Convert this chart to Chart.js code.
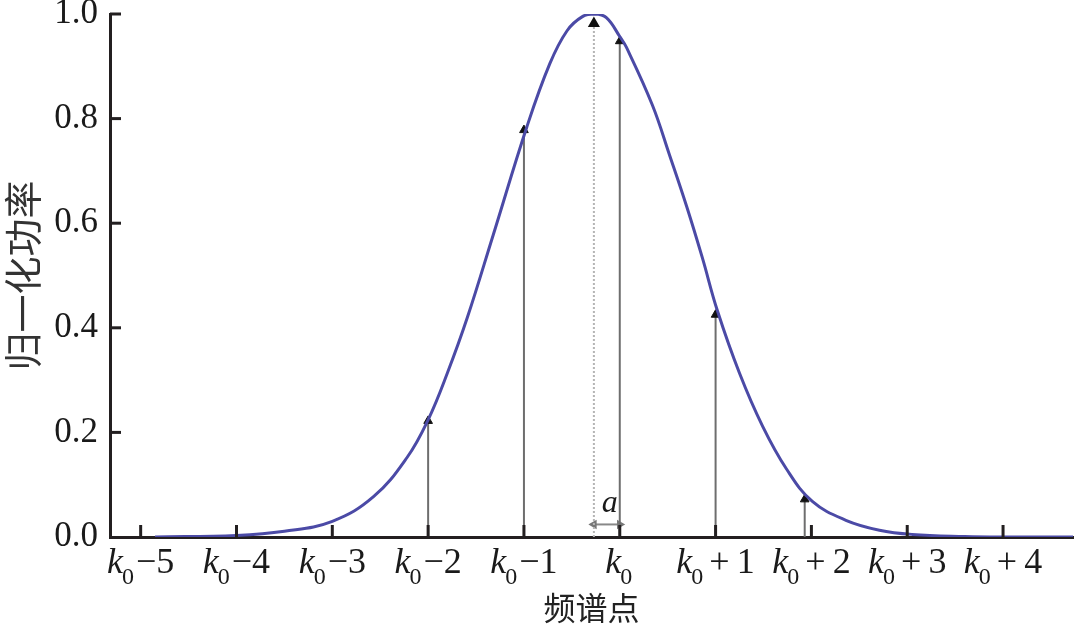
<!DOCTYPE html>
<html>
<head>
<meta charset="utf-8">
<script src="https://cdn.jsdelivr.net/npm/chart.js@4.4.0/dist/chart.umd.min.js"></script>
<style>
   html, body { margin: 0; padding: 0; background: #fff; }
   #wrap { width: 1080px; height: 627px; }
</style>
</head>
<body>
<div id="wrap"><canvas id="spectrum-chart"></canvas></div>
<script>
// curve (x in bins relative to k0)
const curveX = [-4.85, -4.0, -3.5, -3.0, -2.57, -2.22, -2.0, -1.8, -1.59, -1.32, -0.97, -0.73, -0.55, -0.39, -0.26, -0.14,
   0, 0.07, 0.34, 0.52, 0.7, 0.86, 1.02, 1.25, 1.49, 1.74, 2.01, 2.36, 2.71, 3.05, 3.6, 4.0, 4.73];
const curveY = [0, 0.003, 0.011, 0.03, 0.077, 0.152, 0.224, 0.313, 0.42, 0.578, 0.784, 0.905, 0.968, 0.995, 1.0, 0.993,
   0.957, 0.936, 0.826, 0.73, 0.631, 0.535, 0.432, 0.313, 0.212, 0.13, 0.068, 0.032, 0.013, 0.005, 0.001, 0, 0];

// sampled spectral lines (arrows)
const arrowX = [-2, -1, 0, 1, 1.93];
const arrowY = [0.222, 0.778, 0.948, 0.425, 0.072];

// true peak position (dotted line) and offset a
const peakX = -0.27;
const peakY = 0.982;
const offsetY = 0.024;

const xTickValues = [-5, -4, -3, -2, -1, 0, 1, 2, 3, 4];
const xTickSuffix = ["\u22125", "\u22124", "\u22123", "\u22122", "\u22121", "", "+\u20091", "+\u20092", "+\u20093", "+\u20094"];
const yTickValues = [0, 0.2, 0.4, 0.6, 0.8, 1.0];

const serif = "'Liberation Serif', 'DejaVu Serif', serif";
const axisColor = "#231f20";

const datasets = [
   {
      label: "curve",
      data: curveX.map((x, i) => ({ x: x, y: curveY[i] })),
      borderColor: "#4b4aa6",
      borderWidth: 3,
      pointRadius: 0,
      tension: 0.4,
      fill: false,
   },
];

arrowX.forEach((x, i) => {
   datasets.push({
      label: "line" + i,
      data: [{ x: x, y: 0 }, { x: x, y: arrowY[i] }],
      borderColor: "#6e6e6e",
      borderWidth: 2,
      pointStyle: "triangle",
      pointRadius: [0, 5],
      pointBackgroundColor: "#111",
      pointBorderColor: "#111",
      pointBorderWidth: 1,
      fill: false,
   });
});

datasets.push({
   label: "peak",
   data: [{ x: peakX, y: 0 }, { x: peakX, y: peakY }],
   borderColor: "#b5b5b5",
   borderWidth: 2,
   borderDash: [2, 2],
   pointStyle: "triangle",
   pointRadius: [0, 5],
   pointBackgroundColor: "#111",
   pointBorderColor: "#111",
   fill: false,
});

datasets.push({
   label: "offset",
   data: [{ x: peakX, y: offsetY }, { x: 0, y: offsetY }],
   borderColor: "#888",
   borderWidth: 2,
   pointStyle: "triangle",
   pointRadius: 3.5,
   pointRotation: [-90, 90],
   pointBackgroundColor: "#777",
   pointBorderColor: "#777",
   fill: false,
});

// inward tick marks, k0 tick labels, the "a" label
const axisDecor = {
   id: "axisDecor",
   afterDraw(chart) {
      const ctx = chart.ctx;
      const xs = chart.scales.x;
      const ys = chart.scales.y;
      const area = chart.chartArea;
      ctx.save();
      ctx.strokeStyle = axisColor;
      ctx.lineWidth = 3;
      xTickValues.forEach((v) => {
         const px = xs.getPixelForValue(v);
         ctx.beginPath();
         ctx.moveTo(px, area.bottom);
         ctx.lineTo(px, area.bottom - 12);
         ctx.stroke();
      });
      yTickValues.slice(1).forEach((v) => {
         const py = ys.getPixelForValue(v);
         ctx.beginPath();
         ctx.moveTo(area.left, py);
         ctx.lineTo(area.left + 11, py);
         ctx.stroke();
      });

      // x tick labels: italic k, subscript 0, then the offset
      ctx.fillStyle = "#1a1a1a";
      ctx.textBaseline = "alphabetic";
      ctx.textAlign = "left";
      const base = area.bottom + 36;
      const kFont = "italic 36px " + serif;
      const subFont = "24px " + serif;
      const numFont = "36px " + serif;
      xTickValues.forEach((v, i) => {
         const gap = v > 0 ? 5 : 1;
         ctx.font = kFont;
         const wk = ctx.measureText("k").width;
         ctx.font = subFont;
         const ws = ctx.measureText("0").width;
         ctx.font = numFont;
         const wn = ctx.measureText(xTickSuffix[i]).width;
         const total = wk + ws + gap + wn;
         let x0 = xs.getPixelForValue(v) - total / 2;
         ctx.font = kFont;
         ctx.fillText("k", x0, base);
         x0 += wk;
         ctx.font = subFont;
         ctx.fillText("0", x0 - 1, base + 11);
         x0 += ws + gap;
         ctx.font = numFont;
         ctx.fillText(xTickSuffix[i], x0, base);
      });

      ctx.font = "italic 32px " + serif;
      ctx.textAlign = "center";
      ctx.fillText("a", xs.getPixelForValue((peakX + 0) / 2) + 3, ys.getPixelForValue(offsetY) - 12);
      ctx.restore();
   },
};

const ctx = document.getElementById("spectrum-chart").getContext("2d");
const spectrumChart = new Chart(ctx, {
   type: "line",
   data: { datasets: datasets },
   options: {
      responsive: true,
      maintainAspectRatio: false,
      animation: false,
      layout: { padding: { top: 0, right: 5, left: 0, bottom: 0 } },
      plugins: {
         legend: { display: false },
         tooltip: { enabled: false },
      },
      scales: {
         x: {
            type: "linear",
            min: -5.32,
            max: 4.73,
            afterBuildTicks: (scale) => {
               scale.ticks = xTickValues.map((v) => ({ value: v }));
            },
            afterFit: (scale) => {
               scale.height = 90;
               scale.paddingLeft = 0;
               scale.paddingRight = 0;
            },
            grid: { display: false, drawTicks: false },
            border: { display: true, width: 3, color: axisColor },
            ticks: { display: false },
            title: {
               display: true,
               text: "频谱点",
               color: "#222",
               font: { family: "'Noto Sans CJK SC'", size: 32 },
               padding: { top: 0, bottom: 0 },
            },
         },
         y: {
            type: "linear",
            min: 0,
            max: 1,
            afterBuildTicks: (scale) => {
               scale.ticks = yTickValues.map((v) => ({ value: v }));
            },
            afterFit: (scale) => {
               scale.width = 110;
               scale.paddingTop = 14;
               scale.paddingBottom = 0;
            },
            grid: { display: false, drawTicks: false },
            border: { display: true, width: 3, color: axisColor },
            ticks: {
               padding: 12,
               color: "#1a1a1a",
               font: { family: serif, size: 35 },
               callback: (v) => Number(v).toFixed(1),
            },
            title: {
               display: true,
               text: "归一化功率",
               color: "#333",
               font: { family: "'Noto Sans CJK SC'", size: 38 },
               padding: { top: 0, bottom: 0 },
            },
         },
      },
   },
   plugins: [axisDecor],
});
</script>
</body>
</html>
